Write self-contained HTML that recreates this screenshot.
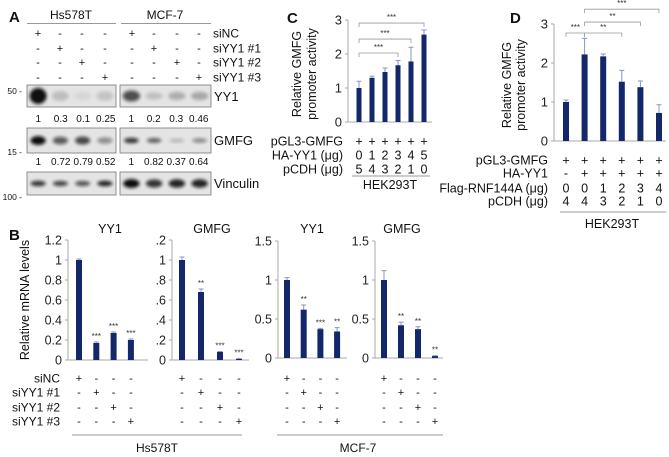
<!DOCTYPE html>
<html><head><meta charset="utf-8"><style>
html,body{margin:0;padding:0;background:#fff}
svg{display:block;font-family:"Liberation Sans",Arial,sans-serif}
</style></head><body>
<svg id="fig" xmlns="http://www.w3.org/2000/svg" width="669" height="457" viewBox="0 0 669 457">
<defs>
<filter id="blur1" x="-50%" y="-50%" width="200%" height="200%"><feGaussianBlur stdDeviation="1.5"/></filter>
</defs>
</svg>
<script>
// ---------- Panel B data ----------
const bCategories = ["siNC","siYY1 #1","siYY1 #2","siYY1 #3"];
const bHsYY1 = [1.0, 0.17, 0.27, 0.2];
const bHsYY1Err = [0.01, 0.01, 0.01, 0.01];
const bHsYY1Stars = ["", "***", "***", "***"];
const bHsGMFG = [1.0, 0.68, 0.08, 0.01];
const bHsGMFGErr = [0.03, 0.03, 0.005, 0.005];
const bHsGMFGStars = ["", "**", "***", "***"];
const bMcfYY1 = [1.0, 0.62, 0.37, 0.34];
const bMcfYY1Err = [0.03, 0.06, 0.01, 0.05];
const bMcfYY1Stars = ["", "**", "***", "**"];
const bMcfGMFG = [1.0, 0.42, 0.37, 0.025];
const bMcfGMFGErr = [0.12, 0.04, 0.03, 0.005];
const bMcfGMFGStars = ["", "**", "**", "**"];
const bTicks12 = [0, 0.2, 0.4, 0.6, 0.8, 1.0, 1.2];
const bTickLabels12 = ["0","0.2","0.4","0.6","0.8","1","1.2"];
const bTickLabels12b = ["0",".2",".4",".6",".8","1",".2"];
const bTicks15 = [0, 0.5, 1.0, 1.5];
const bTickLabels15 = ["0","0.5","1","1.5"];
// ---------- Panel C data ----------
const cValues = [1.0, 1.3, 1.47, 1.67, 1.78, 2.57];
const cErr = [0.2, 0.05, 0.12, 0.14, 0.42, 0.14];
const cTicks = [0, 1, 2, 3];
const cTickLabels = ["0","1","2","3"];
const cRowPGL3 = ["+","+","+","+","+","+"];
const cRowHA = ["0","1","2","3","4","5"];
const cRowPCDH = ["5","4","3","2","1","0"];
const cBrackets = [[0,3,"***",2.03],[0,4,"***",2.44],[0,5,"***",2.91]];
// ---------- Panel D data ----------
const dValues = [1.0, 2.22, 2.17, 1.52, 1.38, 0.72];
const dErr = [0.05, 0.41, 0.06, 0.29, 0.16, 0.21];
const dTicks = [0, 1, 2, 3];
const dTickLabels = ["0","1","2","3"];
const dRowPGL3 = ["+","+","+","+","+","+"];
const dRowHA = ["-","+","+","+","+","+"];
const dRowFlag = ["0","0","1","2","3","4"];
const dRowPCDH = ["4","4","3","2","1","0"];
const dBrackets = [[0,1,"***",2.77],[1,3,"**",2.77],[1,4,"**",3.05],[1,5,"***",3.38]];
// ---------- Panel A data ----------
const aYY1Hs = [1, 0.3, 0.1, 0.25];
const aYY1Mcf = [1, 0.2, 0.3, 0.46];
const aGMFGHs = [1, 0.72, 0.79, 0.52];
const aGMFGMcf = [1, 0.82, 0.37, 0.64];
const aYY1HsLabels = ["1","0.3","0.1","0.25"];
const aYY1McfLabels = ["1","0.2","0.3","0.46"];
const aGMFGHsLabels = ["1","0.72","0.79","0.52"];
const aGMFGMcfLabels = ["1","0.82","0.37","0.64"];

const NS = "http://www.w3.org/2000/svg";
const svg = document.getElementById("fig");
const NAVY = "#13286b", ERR = "#8596c4", AX = "#a8a8a8";

function mk(tag, attrs, parent){
  const e = document.createElementNS(NS, tag);
  for (const k in attrs) e.setAttribute(k, attrs[k]);
  (parent||svg).appendChild(e);
  return e;
}
function txt(x, y, s, size, anchor, parent, extra){
  const t = mk("text", Object.assign({x:x, y:y, "font-size":size, "text-anchor":anchor||"middle", fill:"#111"}, extra||{}), parent);
  t.textContent = s;
  return t;
}

function barChart(cfg){
  const g = mk("g", {});
  
  
  const y = v => cfg.y0 - v * cfg.ppu;
  const x = i => cfg.ax + cfg.off + i * cfg.step;
  const ya = mk("line", {x1:cfg.ax, x2:cfg.ax, y1:y(cfg.ticks[cfg.ticks.length-1]), y2:cfg.y0, stroke:AX, "stroke-width":1}, g);
  
  
  const xa = mk("line", {x1:cfg.ax, x2:cfg.xEnd, y1:cfg.y0, y2:cfg.y0, stroke:AX, "stroke-width":1}, g);
  
  
  cfg.ticks.forEach((t, i) => {
    mk("line", {x1:cfg.ax-3, x2:cfg.ax, y1:y(t), y2:y(t), stroke:AX}, g);
    const tl = txt(cfg.ax-6, y(t)+4.5, cfg.tickLabels[i], cfg.tickSize||12.5, "end", g, {fill:"#222"});
    
    
  });
  cfg.values.forEach((v, i) => {
    const bx = x(i);
    const r = mk("rect", {x:bx - cfg.bw/2, y:y(v), width:cfg.bw, height:Math.max(0.8, v*cfg.ppu), fill:NAVY}, g);
    
    
    const e = cfg.err[i];
    const eb = mk("path", {d:`M${bx} ${y(v)} V${y(v+e)} M${bx-2.5} ${y(v+e)} H${bx+2.5}`, stroke:ERR, "stroke-width":1, fill:"none"}, g);
    
    
    if (cfg.stars && cfg.stars[i]) {
      const st = txt(bx, y(v+e)-3, cfg.stars[i], 8, "middle", g, {fill:"#333"});
      
      
    }
  });
  if (cfg.brackets) cfg.brackets.forEach(b => {
    const by = y(b[3]);
    const p = mk("path", {d:`M${x(b[0])} ${by+4} V${by} H${x(b[1])} V${by+4}`, stroke:"#999", fill:"none", "stroke-width":0.8}, g);
    
    
    const st = txt((x(b[0])+x(b[1]))/2, by-3, b[2], 8, "middle", g, {fill:"#333"});
    
    
  });
  if (cfg.title) {
    const tt = txt(cfg.titleX, 233, cfg.title, 12.5, "middle", g);
    
    
  }
  return {g, x};
}

// ---------- Panel A ----------
const pa = mk("g", {});


let t;
t = txt(9, 22, "A", 15, "start", pa, {"font-weight":"bold"});


t = txt(71, 19, "Hs578T", 12, "middle", pa);


t = txt(165, 19, "MCF-7", 12, "middle", pa);


mk("line", {x1:27, x2:116, y1:23.5, y2:23.5, stroke:"#999"}, pa);
mk("line", {x1:121, x2:211, y1:23.5, y2:23.5, stroke:"#999"}, pa);
const aCols = [38, 60, 82, 105, 132, 154, 177, 199];
const aRows = [33, 48, 62, 77];
["siNC","siYY1 #1","siYY1 #2","siYY1 #3"].forEach((lab, r) => {
  aCols.forEach((cx, c) => {
    const s = (c % 4) === r ? "+" : "-";
    txt(cx, aRows[r]+4, s, 11, "middle", pa);
  });
  const l = txt(213, aRows[r]+4.5, lab, 12, "start", pa);
  
  
});
function blot(x0, x1, y0, y1, intens, bandH, dark, rxf, name){
  const g = mk("g", {}, pa);
  
  
  mk("rect", {x:x0, y:y0, width:x1-x0, height:y1-y0, fill:"#e4e4e4", stroke:"#777", "stroke-width":0.8}, g);
  const step = (x1-x0)/4;
  intens.forEach((v, i) => {
    const cx = x0 + step*(i+0.5);
    mk("ellipse", {cx:cx, cy:(y0+y1)/2, rx:step*rxf, ry:bandH*(0.45+0.55*Math.min(1,v)), fill:"#111", opacity:Math.min(1, 0.04 + Math.pow(v,1.6)*dark), filter:"url(#blur1)"}, g);
  });
}
blot(27, 116, 85, 107, aYY1Hs, 8, 0.95, 0.38, "yy1-blot-hs578t");
blot(120, 211, 85, 107, [0.85, 0.3, 0.42, 0.45], 6, 0.85, 0.38, "yy1-blot-mcf7");
blot(27, 116, 128, 153, aGMFGHs, 4.5, 1.0, 0.34, "gmfg-blot-hs578t");
blot(120, 211, 128, 153, [0.85, 0.7, 0.35, 0.55], 3, 1.0, 0.32, "gmfg-blot-mcf7");
blot(27, 116, 172, 195, [0.85, 0.8, 0.75, 0.9], 3, 1.0, 0.34, "vinculin-blot-hs578t");
blot(120, 211, 172, 195, [1, 0.85, 0.9, 0.9], 4.5, 1.0, 0.36, "vinculin-blot-mcf7");
[[aYY1HsLabels, 27, 118], [aYY1McfLabels, 120, 118], [aGMFGHsLabels, 27, 161], [aGMFGMcfLabels, 120, 161]].forEach(q => {
  q[0].forEach((s, i) => {
    const n = txt(q[1] + 22.5*(i+0.5), q[2]+4, s, 10, "middle", pa);
    
    
  });
});
[["YY1",101],["GMFG",145],["Vinculin",188]].forEach(p => {
  const l = txt(214, p[1], p[0], 13, "start", pa);
  
  
});
[["50 -",94],["15 -",155],["100 -",200]].forEach(p => {
  const l = txt(22, p[1], p[0], 8.5, "end", pa);
  
  
});

// ---------- Panel B ----------
t = txt(9, 240, "B", 15, "start", svg, {"font-weight":"bold"});


t = txt(0, 0, "Relative mRNA levels", 12.5, "middle", svg, {transform:"translate(29,300) rotate(-90)"});


const b1 = barChart({name:"chart-hs578t-yy1", ax:68, xEnd:148, y0:360, ppu:100, off:11, step:17.3, bw:6, values:bHsYY1, err:bHsYY1Err, stars:bHsYY1Stars, ticks:bTicks12, tickLabels:bTickLabels12, title:"YY1", titleX:110});
const b2 = barChart({name:"chart-hs578t-gmfg", ax:172, xEnd:249, y0:360, ppu:100, off:10, step:19, bw:6, values:bHsGMFG, err:bHsGMFGErr, stars:bHsGMFGStars, ticks:bTicks12, tickLabels:bTickLabels12b, title:"GMFG", titleX:212});
const b3 = barChart({name:"chart-mcf7-yy1", ax:278, xEnd:347, y0:358, ppu:78, off:9, step:16.7, bw:6, values:bMcfYY1, err:bMcfYY1Err, stars:bMcfYY1Stars, ticks:bTicks15, tickLabels:bTickLabels15, title:"YY1", titleX:312});
const b4 = barChart({name:"chart-mcf7-gmfg", ax:375, xEnd:443, y0:358, ppu:78, off:9, step:17, bw:6, values:bMcfGMFG, err:bMcfGMFGErr, stars:bMcfGMFGStars, ticks:bTicks15, tickLabels:bTickLabels15, title:"GMFG", titleX:402});
const bRowsY = [378, 392, 407, 421];
bCategories.forEach((lab, r) => {
  const l = txt(60, bRowsY[r]+4.5, lab, 12, "end", svg);
  
  
  [b1, b2, b3, b4].forEach(ch => {
    bCategories.forEach((_, c) => txt(ch.x(c), bRowsY[r]+4, c === r ? "+" : "-", 11, "middle"));
  });
});
mk("line", {x1:72, x2:242, y1:435, y2:435, stroke:"#999"});
mk("line", {x1:277, x2:443, y1:435, y2:435, stroke:"#999"});
t = txt(157, 452, "Hs578T", 12, "middle");


t = txt(358, 452, "MCF-7", 12, "middle");



// ---------- Panel C ----------
t = txt(287, 23, "C", 15, "start", svg, {"font-weight":"bold"});


t = txt(0, 0, "Relative GMFG", 12.5, "middle", svg, {transform:"translate(301,74) rotate(-90)"});


t = txt(0, 0, "promoter activity", 12.5, "middle", svg, {transform:"translate(316,74) rotate(-90)"});


const cc = barChart({name:"chart-c-promoter-activity", ax:348, xEnd:432, y0:122, ppu:34, off:11, step:13, bw:5, values:cValues, err:cErr, ticks:cTicks, tickLabels:cTickLabels, brackets:cBrackets, tickSize:13});
[["pGL3-GMFG", cRowPGL3, 141], ["HA-YY1 (μg)", cRowHA, 155], ["pCDH (μg)", cRowPCDH, 169]].forEach(r => {
  const l = txt(343, r[2]+4.5, r[0], 12.5, "end");
  
  
  r[1].forEach((s, i) => txt(cc.x(i), r[2]+4.5, s, 12.5, "middle"));
});
mk("line", {x1:352, x2:430, y1:176, y2:176, stroke:"#999"});
t = txt(390, 189, "HEK293T", 12.5, "middle");



// ---------- Panel D ----------
t = txt(510, 23, "D", 15, "start", svg, {"font-weight":"bold"});


t = txt(0, 0, "Relative GMFG", 12.5, "middle", svg, {transform:"translate(511,85) rotate(-90)"});


t = txt(0, 0, "promoter activity", 12.5, "middle", svg, {transform:"translate(525,85) rotate(-90)"});


const dd = barChart({name:"chart-d-promoter-activity", ax:554, xEnd:666, y0:141, ppu:39, off:12, step:18.6, bw:6, values:dValues, err:dErr, ticks:dTicks, tickLabels:dTickLabels, brackets:dBrackets, tickSize:13});
[["pGL3-GMFG", dRowPGL3, 160], ["HA-YY1", dRowHA, 173], ["Flag-RNF144A (μg)", dRowFlag, 188], ["pCDH (μg)", dRowPCDH, 201]].forEach(r => {
  const l = txt(548, r[2]+4.5, r[0], 12.5, "end");
  
  
  r[1].forEach((s, i) => txt(dd.x(i), r[2]+4.5, s, 12.5, "middle"));
});
mk("line", {x1:560, x2:666, y1:212, y2:212, stroke:"#999"});
t = txt(612, 228, "HEK293T", 12.5, "middle");


</script>
</body></html>
